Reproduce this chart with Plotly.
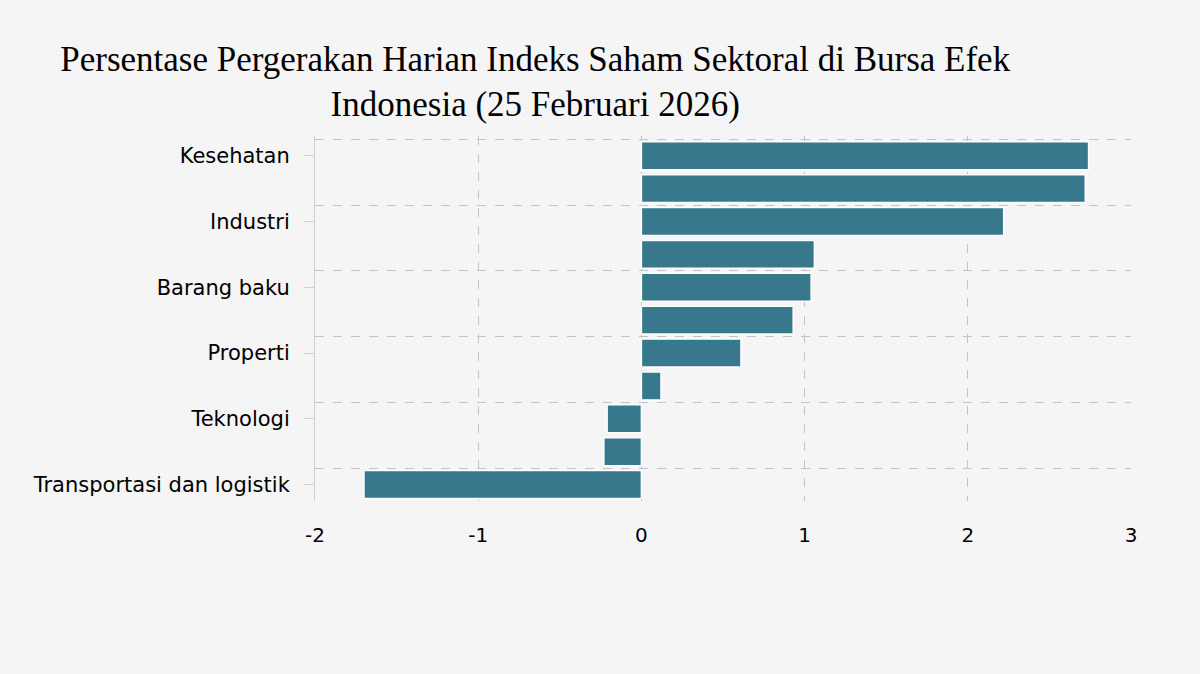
import plotly.graph_objects as go

# daily % change of IDX sector indices, 25 Feb 2026 (sorted top -> bottom)
sectors = [
    "Kesehatan", "Energi", "Industri", "Infrastruktur", "Barang baku",
    "Keuangan", "Properti", "Barang konsumen primer", "Teknologi",
    "Barang konsumen non-primer", "Transportasi dan logistik",
]
pct_change = [2.74, 2.72, 2.22, 1.06, 1.04, 0.93, 0.61, 0.12, -0.21, -0.23, -1.70]

x_ticks = [-2, -1, 0, 1, 2, 3]
x_ticktext = ["-2", "-1", "0", "1", "2", "3"]

pos = list(range(len(sectors)))

fig = go.Figure()
fig.add_trace(go.Bar(
    x=pct_change,
    y=pos,
    orientation="h",
    marker=dict(color="#2c7186", line=dict(color="white", width=1.5)),
    opacity=0.94,
    hovertext=sectors,
))

fig.update_layout(
    width=1200,
    height=674,
    paper_bgcolor="#f5f5f5",
    plot_bgcolor="#f5f5f5",
    margin=dict(l=315, r=69, t=136, b=173),
    bargap=0.15,
    showlegend=False,
    title=dict(
        text="Persentase Pergerakan Harian Indeks Saham Sektoral di Bursa Efek<br>Indonesia (25 Februari 2026)",
        x=0.446, xanchor="center",
        y=0.895, yanchor="top",
        font=dict(family="Liberation Serif", size=35, color="black"),
    ),
    font=dict(family="DejaVu Sans", size=21, color="black"),
)

fig.update_xaxes(
    range=[-2, 3],
    tickvals=x_ticks,
    ticktext=x_ticktext,
    showgrid=True, gridcolor="#c4c4c4", griddash="dash", gridwidth=1,
    zeroline=False,
    showline=False,
    ticks="", ticklabelstandoff=20,
    tickfont=dict(family="DejaVu Sans", size=20),
)

fig.update_yaxes(
    range=[len(sectors) - 0.5, -0.6],
    tickmode="array",
    tickvals=pos[::2],
    ticktext=sectors[::2],
    showgrid=False,
    minor=dict(
        tickmode="array",
        tickvals=[p - 0.5 for p in pos[::2]],
        showgrid=True, gridcolor="#c4c4c4", griddash="dash", gridwidth=1,
        ticks="",
    ),
    showline=True, linecolor="#d0d0d0", linewidth=1,
    ticks="outside", ticklen=10, tickcolor="#d0d0d0",
    ticklabelstandoff=10,
    zeroline=False,
    tickfont=dict(family="DejaVu Sans", size=21),
)

fig.write_html(
    "out.html",
    config={"displayModeBar": False},
    post_script="document.body.style.margin='0';document.body.style.background='#f5f5f5';",
)
